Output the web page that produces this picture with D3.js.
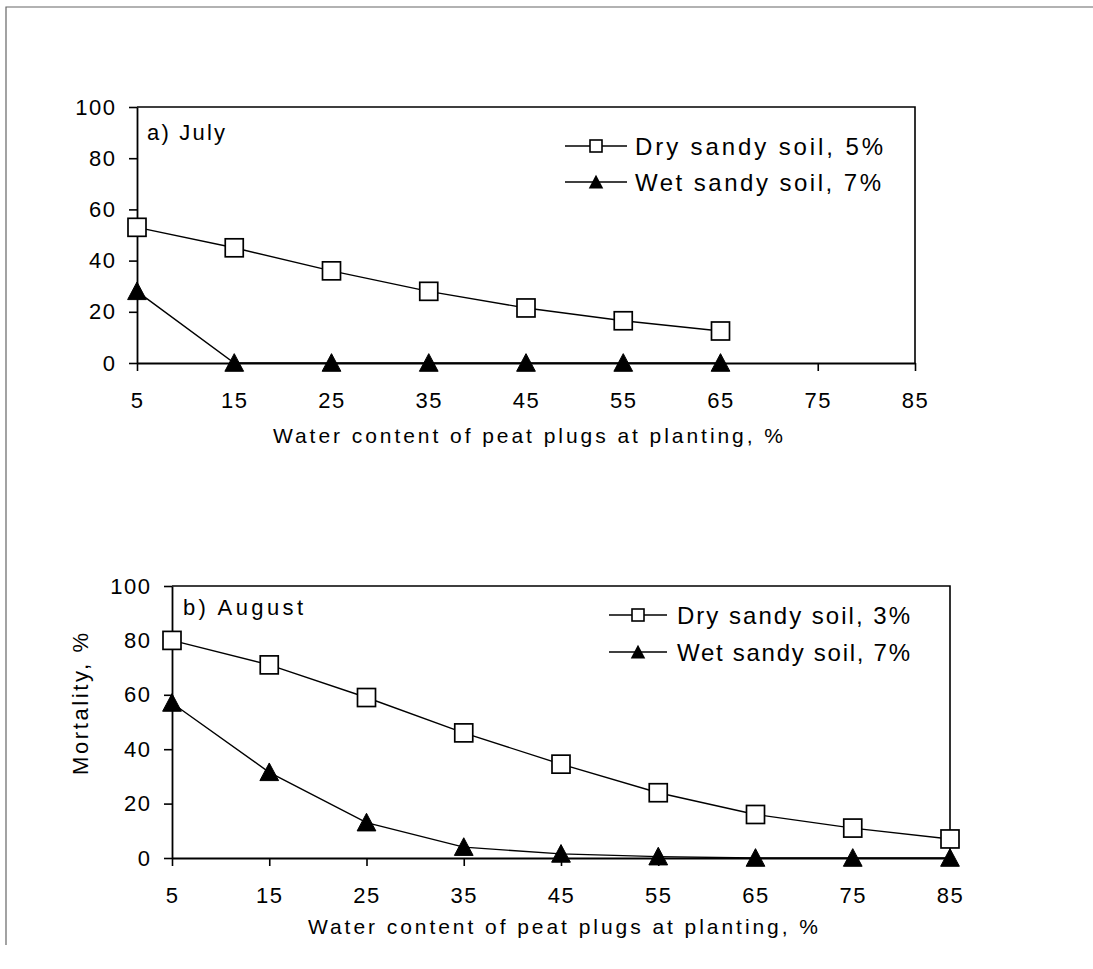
<!DOCTYPE html>
<html><head><meta charset="utf-8">
<script src="https://cdn.jsdelivr.net/npm/d3@7"></script>
<style>
body{margin:0;background:#fff}
svg{display:block}
text{font-family:Arial,"Liberation Sans",sans-serif;fill:#000}
</style>
</head><body>
<svg id="c" width="1093" height="969"></svg>
<script>
// ---- data ----
const waterContent = [5, 15, 25, 35, 45, 55, 65, 75, 85];
const xTickValues = [5, 15, 25, 35, 45, 55, 65, 75, 85];
const yTickValues = [0, 20, 40, 60, 80, 100];
const julyDry = [53, 45, 36, 28, 21.5, 16.5, 12.5];
const julyWet = [28, 0, 0, 0, 0, 0, 0];
const augustDry = [80, 71, 59, 46, 34.5, 24, 16, 11, 7];
const augustWet = [57, 31.5, 13, 4, 1.5, 0.5, 0, 0, 0];
const julyLegend = ["Dry sandy soil,  5%", "Wet sandy soil, 7%"];
const augustLegend = ["Dry sandy soil, 3%", "Wet sandy soil, 7%"];
const panelLabels = ["a) July", "b) August"];
const xTitle = "Water content of peat plugs at planting, %";
const yTitle = "Mortality, %";

const svg = d3.select("#c");

// outer frame
svg.append("path").attr("d", "M6,945 V7 H1093").attr("fill", "none")
  .attr("stroke", "#666").attr("stroke-width", 1.2);

const triPath = (s) => `M0,${-s*0.52} L${s*0.52},${s*0.46} L${-s*0.52},${s*0.46}Z`;

function panel(cfg) {
  const g = svg.append("g");
  const x = d3.scaleLinear().domain([5, 85]).range([cfg.left, cfg.right]);
  const y = d3.scaleLinear().domain([0, 100]).range([cfg.bottom, cfg.top]);

  // box top & right
  g.append("path")
    .attr("d", `M${x(5)},${y(100)} H${x(85)} V${y(0)}`)
    .attr("fill", "none").attr("stroke", "#000").attr("stroke-width", 1.6);

  const xa = g.append("g").attr("transform", `translate(0,${y(0)})`)
    .call(d3.axisBottom(x).tickValues(xTickValues).tickSize(8).tickSizeOuter(0).tickPadding(21));
  const ya = g.append("g").attr("transform", `translate(${x(5)},0)`)
    .call(d3.axisLeft(y).tickValues(yTickValues).tickSize(8).tickSizeOuter(0).tickPadding(14));
  [xa, ya].forEach(a => {
    a.select(".domain").attr("stroke", "#000").attr("stroke-width", 1.8);
    a.selectAll(".tick line").attr("stroke", "#000").attr("stroke-width", 1.6);
    a.selectAll(".tick text").attr("font-size", 22).attr("letter-spacing", "1.5px")
      .attr("font-family", "Arial, 'Liberation Sans', sans-serif").attr("fill", "#000");
  });
  ya.selectAll(".tick text").attr("dx", "1.5px");

  // panel label
  g.append("text").attr("x", cfg.labelX).attr("y", cfg.labelY).attr("font-size", 22)
    .attr("dominant-baseline", "central").attr("textLength", cfg.labelW)
    .attr("lengthAdjust", "spacing").text(cfg.label);

  // x title
  g.append("text").attr("x", (cfg.left + cfg.right) / 2 + 2).attr("y", cfg.xTitleY)
    .attr("text-anchor", "middle").attr("dominant-baseline", "central")
    .attr("font-size", 21).attr("textLength", 510).attr("lengthAdjust", "spacing").text(xTitle);

  const line = d3.line().x(d => x(d.x)).y(d => y(d.y));
  const dry = cfg.dry.map((v, i) => ({x: waterContent[i], y: v}));
  const wet = cfg.wet.map((v, i) => ({x: waterContent[i], y: v}));
  g.append("path").datum(dry).attr("d", line).attr("fill", "none").attr("stroke", "#000").attr("stroke-width", 1.4);
  g.append("path").datum(wet).attr("d", line).attr("fill", "none").attr("stroke", "#000").attr("stroke-width", 1.4);

  g.selectAll(".tri").data(wet).enter().append("path")
    .attr("d", triPath(18)).attr("transform", d => `translate(${x(d.x)},${y(d.y)})`)
    .attr("fill", "#000").attr("stroke", "#000").attr("stroke-width", 1);
  g.selectAll(".sq").data(dry).enter().append("rect")
    .attr("x", d => x(d.x) - 9).attr("y", d => y(d.y) - 9).attr("width", 18).attr("height", 18)
    .attr("fill", "#fff").attr("stroke", "#000").attr("stroke-width", 1.7);

  // legend
  const L = cfg.legend;
  cfg.legendText.forEach((t, i) => {
    const ly = L.y[i];
    g.append("line").attr("x1", L.x1).attr("x2", L.x2).attr("y1", ly).attr("y2", ly)
      .attr("stroke", "#000").attr("stroke-width", 1.5);
    const mx = (L.x1 + L.x2) / 2;
    if (i === 0) {
      g.append("rect").attr("x", mx - 6).attr("y", ly - 6).attr("width", 12).attr("height", 12)
        .attr("fill", "#fff").attr("stroke", "#000").attr("stroke-width", 1.6);
    } else {
      g.append("path").attr("d", triPath(14)).attr("transform", `translate(${mx},${ly})`)
        .attr("fill", "#000");
    }
    g.append("text").attr("x", L.tx).attr("y", ly).attr("dominant-baseline", "central")
      .attr("font-size", 24).attr("textLength", L.tw[i]).attr("lengthAdjust", "spacing").text(t);
  });
  return {x, y, g};
}

const A = panel({left: 137, right: 915, top: 107, bottom: 363,
  dry: julyDry, wet: julyWet, label: panelLabels[0], labelX: 147, labelY: 132, labelW: 78,
  xTitleY: 435,
  legend: {x1: 565, x2: 627, y: [146, 182], tx: 635, tw: [248, 246]}, legendText: julyLegend});

const B = panel({left: 172, right: 950, top: 586, bottom: 858,
  dry: augustDry, wet: augustWet, label: panelLabels[1], labelX: 183, labelY: 607, labelW: 120,
  xTitleY: 926,
  legend: {x1: 609, x2: 667, y: [615, 652], tx: 677, tw: [233, 233]}, legendText: augustLegend});

// y title August
svg.append("text").attr("transform", "translate(88,704) rotate(-90)")
  .attr("text-anchor", "middle").attr("font-size", 22).attr("textLength", 142)
  .attr("lengthAdjust", "spacing").text(yTitle);

// y title July (mostly cut off in the original, only a sliver visible)
svg.append("clipPath").attr("id", "clipJ").append("rect")
  .attr("x", 51.5).attr("y", 130).attr("width", 10).attr("height", 180);
svg.append("text").attr("clip-path", "url(#clipJ)")
  .attr("transform", "translate(53,220) rotate(-90)")
  .attr("text-anchor", "middle").attr("font-size", 21).attr("fill", "#555")
  .attr("textLength", 144).attr("lengthAdjust", "spacing").text(yTitle);
</script>
</body></html>
